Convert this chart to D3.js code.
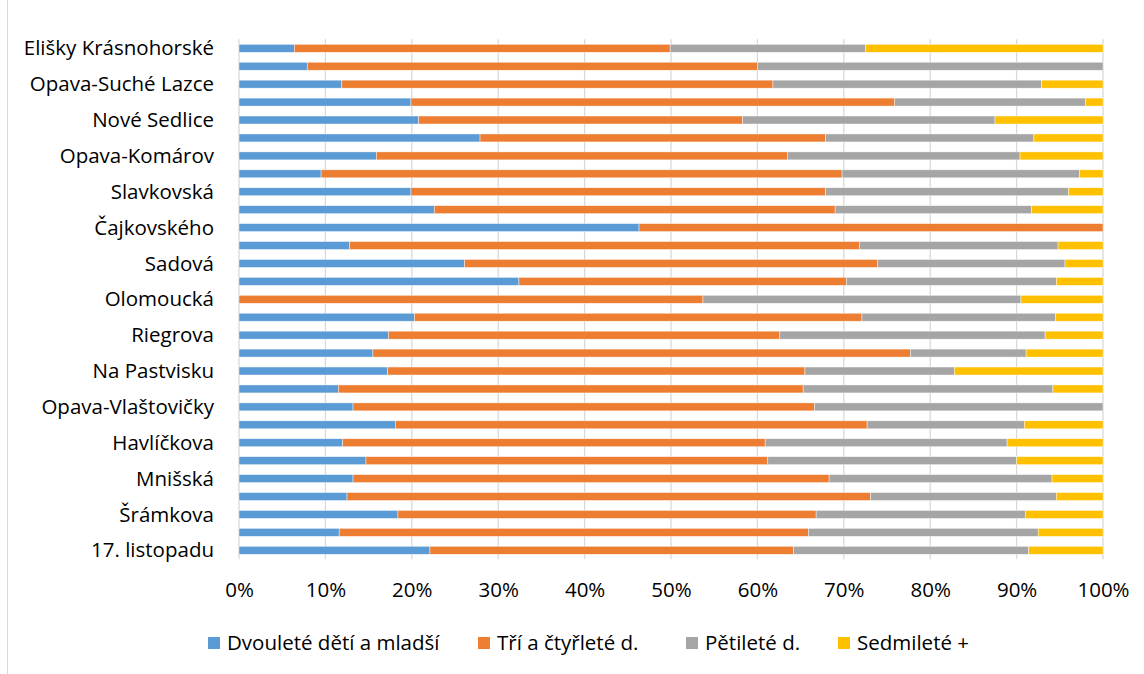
<!DOCTYPE html>
<html><head><meta charset="utf-8">
<script src="https://cdn.jsdelivr.net/npm/d3@7"></script>
<style>
html,body{margin:0;padding:0;background:#fff;}
svg{display:block;}
text{font-family:"Open Sans", sans-serif;fill:#000;}
</style></head>
<body>
<svg id="chart" width="1144" height="674"></svg>
<script>
// Categories (top to bottom); rows without a visible label in the reference are ""
const categories = ["Elišky Krásnohorské","","Opava-Suché Lazce","","Nové Sedlice","","Opava-Komárov","","Slavkovská","","Čajkovského","","Sadová","","Olomoucká","","Riegrova","","Na Pastvisku","","Opava-Vlaštovičky","","Havlíčkova","","Mnišská","","Šrámkova","","17. listopadu"];
const seriesNames = ["Dvouleté dětí a mladší","Tří a čtyřleté d.","Pětileté d.","Sedmileté +"];
const dvoulete = [6.4,7.9,11.9,19.9,20.8,27.9,15.9,9.5,19.9,22.6,46.3,12.8,26.1,32.4,0,20.3,17.3,15.5,17.2,11.5,13.2,18.1,12.0,14.7,13.2,12.5,18.4,11.6,22.1];
const triCtyr  = [43.5,52.1,49.9,56.0,37.5,40.0,47.6,60.3,48.0,46.4,53.7,59.0,47.8,37.9,53.7,51.8,45.3,62.2,48.3,53.8,53.4,54.6,48.9,46.5,55.1,60.6,48.4,54.3,42.1];
const petilete = [22.6,40.0,31.1,22.1,29.2,24.1,26.9,27.5,28.1,22.7,0,23.0,21.7,24.3,36.8,22.4,30.7,13.4,17.3,28.9,33.4,18.2,28.0,28.8,25.8,21.5,24.2,26.6,27.2];
const sedmilete= [27.5,0,7.1,2.0,12.5,8.0,9.6,2.7,4.0,8.3,0,5.2,4.4,5.4,9.5,5.5,6.7,8.9,17.2,5.8,0,9.1,11.1,10.0,5.9,5.4,9.0,7.5,8.6];
const xTicks = [0,0.1,0.2,0.3,0.4,0.5,0.6,0.7,0.8,0.9,1.0];
const colors = ["#5b9bd5","#ed7d31","#a5a5a5","#ffc000"];

const svg = d3.select("#chart");
const plot = {left:239, right:1103, top:39.3, bottom:559.3};

svg.append("line").attr("x1",7.5).attr("x2",7.5).attr("y1",0).attr("y2",674)
  .attr("stroke","#d9d9d9").attr("stroke-width",1);

const rows = categories.map((c,i)=>{
  const vals=[dvoulete[i],triCtyr[i],petilete[i],sedmilete[i]];
  const tot=d3.sum(vals);
  const o={idx:i,label:c};
  seriesNames.forEach((s,k)=>o[s]=vals[k]/tot);
  return o;
});

const x = d3.scaleLinear().domain([0,1]).range([plot.left,plot.right]);
const y = d3.scaleBand().domain(d3.range(categories.length)).range([plot.top,plot.bottom]).paddingInner(0.555).paddingOuter(0.28);

svg.append("g").selectAll("line").data(xTicks).join("line")
  .attr("x1",d=>x(d)).attr("x2",d=>x(d)).attr("y1",plot.top).attr("y2",plot.bottom)
  .attr("stroke","#d9d9d9").attr("stroke-width",1.3);

const stack = d3.stack().keys(seriesNames)(rows);
svg.append("g").selectAll("g").data(stack).join("g")
  .attr("fill",(d,i)=>colors[i])
  .selectAll("rect").data(d=>d).join("rect")
  .attr("x",d=>x(d[0])).attr("width",d=>Math.max(0,x(d[1])-x(d[0])))
  .attr("y",d=>y(d.data.idx)).attr("height",y.bandwidth())
  .attr("stroke","#fff").attr("stroke-width",0.6).attr("stroke-opacity",0.7);

const FS = 20.5;
const xAxis = d3.axisBottom(x).tickValues(xTicks).tickFormat(d3.format(".0%")).tickSize(0).tickPadding(0);
const gx = svg.append("g").attr("transform",`translate(0,${plot.bottom+31})`).call(xAxis);
gx.select(".domain").remove();
gx.selectAll("text").attr("font-size",FS).attr("fill","#000").attr("dy","0.35em").style("font-family","'Open Sans', sans-serif");

const yAxis = d3.axisLeft(y).tickFormat(i=>categories[i]).tickSize(0).tickPadding(0);
const gy = svg.append("g").attr("transform",`translate(${plot.left-25},0)`).call(yAxis);
gy.select(".domain").remove();
gy.selectAll("text").attr("font-size",FS).attr("fill","#000").attr("dy","0.35em").style("font-family","'Open Sans', sans-serif");

const legendX = [208,478,686,838];
const lg = svg.append("g").selectAll("g").data(seriesNames).join("g")
  .attr("transform",(d,i)=>`translate(${legendX[i]},643)`);
lg.append("rect").attr("x",0).attr("y",-6).attr("width",12).attr("height",12).attr("fill",(d,i)=>colors[i]);
lg.append("text").attr("x",19).attr("y",0).attr("dy","0.35em").attr("font-size",FS).text(d=>d);
</script>
</body></html>
